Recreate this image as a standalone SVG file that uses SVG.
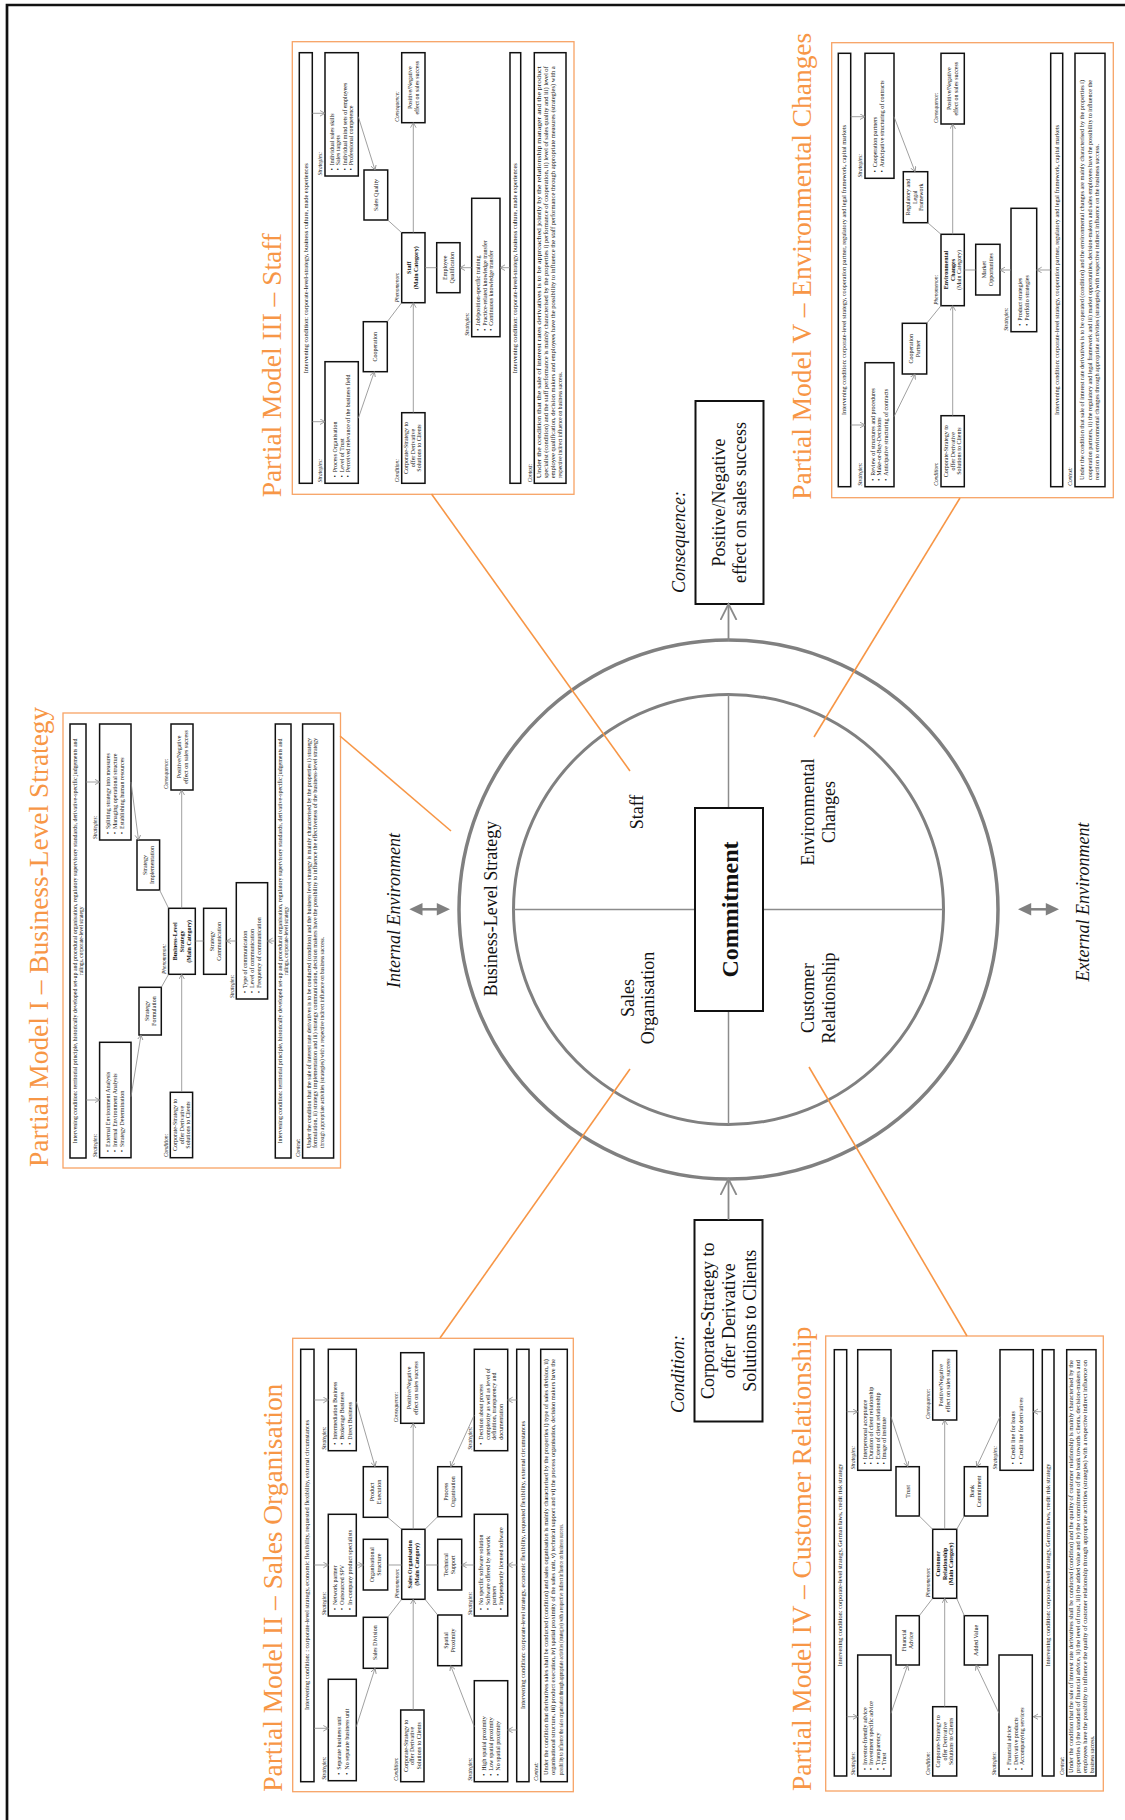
<svg xmlns="http://www.w3.org/2000/svg" width="1125" height="1820" viewBox="0 0 1125 1820">
<defs>
<style>
.ob{fill:#fff;stroke:#F7A365;stroke-width:1.3}
.bx{fill:#fff;stroke:#111;stroke-width:1.5}
.ln{fill:none;stroke:#888;stroke-width:0.8}
.ar{fill:none;stroke:#888;stroke-width:0.8;marker-end:url(#a)}
text{font-family:'Liberation Serif','Times New Roman',serif;fill:#111}
.t{font-size:6px}
.s{font-size:5.4px}
.c{text-anchor:middle}
.b{font-weight:bold}
.i{font-style:italic;font-size:5.4px}
.ttl{font-size:27.4px;fill:#F79646}
.or{stroke:#F79646;stroke-width:1.6;fill:none}
.ring{fill:none;stroke:#808080;stroke-width:3.5}
.cr{stroke:#8c8c8c;stroke-width:1.5}
.bb{fill:#fff;stroke:#111;stroke-width:2}
.big{font-size:18px}
.cap{font-size:18px;font-style:italic}
.ca{fill:none;stroke:#8a8a8a;stroke-width:1.8;marker-end:url(#A)}
.dh{fill:#808080}
</style>
<marker id="a" markerUnits="userSpaceOnUse" markerWidth="8" markerHeight="8" refX="5" refY="3" orient="auto"><path d="M0,0.2 L5,3 L0,5.8" fill="none" stroke="#888" stroke-width="0.8"/></marker>
<marker id="A" markerUnits="userSpaceOnUse" markerWidth="20" markerHeight="20" refX="16" refY="9" orient="auto"><path d="M0,1 L16,9 L0,17" fill="none" stroke="#8a8a8a" stroke-width="1.8"/></marker>
</defs>
<rect width="1125" height="1820" fill="#fff"/>
<path d="M7,1820 V5 H1125" fill="none" stroke="#111" stroke-width="2.7"/>

<g transform="matrix(0,-1,1,0,0,1820)">

<!-- Center -->
<g id="ring">
<circle class="ring" cx="910.5" cy="728.5" r="269.5"/>
<circle class="ring" cx="910.5" cy="728.5" r="215" style="stroke-width:3"/>
<line class="cr" x1="910.5" y1="513.5" x2="910.5" y2="695"/>
<line class="cr" x1="910.5" y1="763" x2="910.5" y2="943.5"/>
<line class="cr" x1="1125.5" y1="728.5" x2="1012" y2="728.5"/>
<line class="cr" x1="809" y1="728.5" x2="695.5" y2="728.5"/>
<text class="big c" x="911.5" y="497">Business-Level Strategy</text>
<text class="big c" x="1008" y="643">Staff</text>
<text class="big c" x="822" y="633.5">Sales</text>
<text class="big c" x="822" y="654">Organisation</text>
<text class="big c" x="1008" y="814">Environmental</text>
<text class="big c" x="1008" y="834.5">Changes</text>
<text class="big c" x="822" y="814">Customer</text>
<text class="big c" x="822" y="834.5">Relationship</text>
</g>
<g id="commitment">
<rect class="bb" x="809" y="695" width="203" height="68"/>
<text class="c b" x="910.5" y="737.5" style="font-size:24px">Commitment</text>
</g>
<g id="consequence">
<rect class="bb" x="1216" y="695.5" width="203" height="68"/>
<text class="big c" x="1317.5" y="724.5">Positive/Negative</text>
<text class="big c" x="1317.5" y="745.5">effect on sales success</text>
<text class="cap" x="1227" y="685">Consequence:</text>
</g>
<g id="condition">
<rect class="bb" x="398.5" y="694.5" width="201.5" height="68"/>
<text class="big c" x="499.3" y="713.5">Corporate-Strategy to</text>
<text class="big c" x="499.3" y="734.5">offer Derivative</text>
<text class="big c" x="499.3" y="755.5">Solutions to Clients</text>
<text class="cap" x="407" y="684">Condition:</text>
</g>
<g id="environment-labels">
<text class="cap c" x="909.5" y="400">Internal Environment</text>
<text class="cap c" x="918" y="1089">External Environment</text>
</g>
<g id="center-connectors">
<line class="ca" x1="1179.3" y1="728.5" x2="1216" y2="728.5"/>
<line class="ca" x1="600" y1="728.5" x2="641" y2="728.5"/>
</g>

<!-- Partial Model I -->
<g id="model1" transform="translate(652,63)">
<rect class="ob" x="0" y="0" width="455" height="277.5"/>
<text class="ttl" x="1" y="-15">Partial Model I – Business-Level Strategy</text>
<rect class="bx" x="10" y="7" width="434" height="16"/>
<text class="s c" x="227" y="13.6" textLength="405" lengthAdjust="spacingAndGlyphs">Intervening condition: territorial principle, historically developed set-up and procedural organisation, regulatory supervisory standards, derivative-specific judgements and</text>
<text class="s c" x="227" y="20">rulings, corporate-level strategy</text>
<text class="i" x="11" y="33.5">Strategies:</text>
<rect class="bx" x="10.3" y="36.6" width="115.4" height="31.4"/>
<text class="t"><tspan x="16" y="47.3">•</tspan><tspan x="21">External Environment Analysis</tspan><tspan x="16" y="54">•</tspan><tspan x="21">Internal Environment Analysis</tspan><tspan x="16" y="60.7">•</tspan><tspan x="21">Strategy Determination</tspan></text>
<text class="i" x="329" y="33.5">Strategies:</text>
<rect class="bx" x="328" y="36.6" width="116" height="31.4"/>
<text class="t"><tspan x="334" y="47.3">•</tspan><tspan x="339">Splitting strategy into measures</tspan><tspan x="334" y="54">•</tspan><tspan x="339">Managing operational structure</tspan><tspan x="334" y="60.7">•</tspan><tspan x="339">Establishing human resources</tspan></text>
<rect class="bx" x="133" y="76" width="47.7" height="22.3"/>
<text class="t c" x="156.9" y="85.6">Strategy</text><text class="t c" x="156.9" y="92.6">Formulation</text>
<rect class="bx" x="278" y="74" width="50" height="22.6"/>
<text class="t c" x="303" y="83.8">Strategy</text><text class="t c" x="303" y="90.8">Implementation</text>
<text class="i" x="194" y="103">Phenomenon:</text>
<rect class="bx" x="193.7" y="105.6" width="66" height="26.7"/>
<text class="t c b" x="226.7" y="114">Business-Level</text><text class="t c b" x="226.7" y="121">Strategy</text><text class="t c b" x="226.7" y="128">(Main Category)</text>
<rect class="bx" x="193.7" y="140.6" width="66" height="22.7"/>
<text class="t c" x="226.7" y="150.5">Strategy</text><text class="t c" x="226.7" y="157.5">Communication</text>
<text class="i" x="170" y="170.5">Strategies:</text>
<rect class="bx" x="169" y="173.3" width="116.3" height="31.3"/>
<text class="t"><tspan x="175" y="184.3">•</tspan><tspan x="180">Type of communication</tspan><tspan x="175" y="191">•</tspan><tspan x="180">Level of communication</tspan><tspan x="175" y="197.7">•</tspan><tspan x="180">Frequency of communication</tspan></text>
<text class="i" x="11" y="104.5">Condition:</text>
<rect class="bx" x="10.3" y="107.3" width="65.4" height="22.3"/>
<text class="t c" x="43" y="114">Corporate-Strategy to</text><text class="t c" x="43" y="120.5">offer Derivative</text><text class="t c" x="43" y="127">Solutions to Clients</text>
<text class="i" x="379" y="105.3">Consequence:</text>
<rect class="bx" x="378" y="108" width="66" height="22"/>
<text class="t c" x="411" y="117.5">Positive/Negative</text><text class="t c" x="411" y="124.5">effect on sales success</text>
<rect class="bx" x="10" y="212.3" width="434" height="15.7"/>
<text class="s c" x="227" y="218.8" textLength="405" lengthAdjust="spacingAndGlyphs">Intervening condition: territorial principle, historically developed set-up and procedural organisation, regulatory supervisory standards, derivative-specific judgements and</text>
<text class="s c" x="227" y="225.2">rulings, corporate-level strategy</text>
<text class="i" x="11" y="236.8">Context:</text>
<rect class="bx" x="10" y="239.6" width="434" height="31"/>
<text class="s" x="20" y="248" textLength="410" lengthAdjust="spacingAndGlyphs">Under the condition that the sale of interest rate derivatives is to be conducted (condition) and the business level strategy is mainly characterised by the properties i) strategy</text>
<text class="s" x="20" y="254.3" textLength="410" lengthAdjust="spacingAndGlyphs">formulation, ii) strategy implementation and iii) strategy communication, decision makers have the possibility to influence the effectiveness of the business-level strategy</text>
<text class="s" x="20" y="260.6">through appropriate activities (strategies) with a respective indirect influence on business success.</text>
<g id="model1-connectors">
<path class="ar" d="M68,23 L68,36.6"/>
<path class="ar" d="M386,23 L386,36.6"/>
<path class="ar" d="M76,118.7 L193.7,118.7"/>
<path class="ar" d="M259.7,118.7 L378,118.7"/>
<path class="ln" d="M180.7,98.3 L193.7,105.6"/>
<path class="ln" d="M278,96.6 L259.7,105.6"/>
<path class="ar" d="M71.3,68 L133,78"/>
<path class="ar" d="M386,68 L328,75.5"/>
<path class="ln" d="M227,132.3 L227,140.6"/>
<path class="ar" d="M227,173.3 L227,163.3"/>
<path class="ar" d="M227,212.3 L227,204.6"/>
</g>
</g>

<!-- Partial Model III -->
<g id="model3" transform="translate(1325.7,292.3)">
<rect class="ob" x="0" y="0" width="452.6" height="281.7"/>
<text class="ttl" x="-3" y="-11">Partial Model III – Staff</text>
<rect class="bx" x="11" y="7" width="430.6" height="13"/>
<text class="s c" x="226" y="15.5" textLength="210" lengthAdjust="spacingAndGlyphs">Intervening condition: corporate-level-strategy, business culture, made experiences</text>
<text class="i" x="12" y="30">Strategies:</text>
<rect class="bx" x="11" y="32.7" width="121.6" height="33.3"/>
<text class="t"><tspan x="17" y="44.6">•</tspan><tspan x="22">Process Organisation</tspan><tspan x="17" y="51.3">•</tspan><tspan x="22">Level of Trust</tspan><tspan x="17" y="58">•</tspan><tspan x="22">Perceived relevance of the business field</tspan></text>
<text class="i" x="319" y="30">Strategies:</text>
<rect class="bx" x="318.3" y="32.7" width="123.3" height="33.3"/>
<text class="t"><tspan x="324" y="41.6">•</tspan><tspan x="329">Individual sales skills</tspan><tspan x="324" y="48.1">•</tspan><tspan x="329">Sales targets</tspan><tspan x="324" y="54.6">•</tspan><tspan x="329">Individual mind sets of employees</tspan><tspan x="324" y="61.1">•</tspan><tspan x="329">Professional competence</tspan></text>
<rect class="bx" x="122.6" y="71" width="50" height="24"/>
<text class="t c" x="147.6" y="85">Cooperation</text>
<rect class="bx" x="274.3" y="71.7" width="50" height="23.7"/>
<text class="t c" x="299.3" y="85.5">Sales Quality</text>
<text class="i" x="192" y="106.5">Phenomenon:</text>
<rect class="bx" x="191.6" y="109.4" width="70" height="23.3"/>
<text class="t c b" x="226.6" y="119">Staff</text><text class="t c b" x="226.6" y="126">(Main Category)</text>
<rect class="bx" x="201.6" y="144.4" width="50" height="23.3"/>
<text class="t c" x="226.6" y="154.5">Employee</text><text class="t c" x="226.6" y="161.5">Qualification</text>
<text class="i" x="158.6" y="176.5">Strategies:</text>
<rect class="bx" x="157.6" y="179.4" width="138.4" height="28.3"/>
<text class="t"><tspan x="163.6" y="187.8">•</tspan><tspan x="168.6">Job/position-specific training</tspan><tspan x="163.6" y="194.5">•</tspan><tspan x="168.6">Practice-related knowledge transfer</tspan><tspan x="163.6" y="201.2">•</tspan><tspan x="168.6">Continuous knowledge transfer</tspan></text>
<text class="i" x="12" y="106.5">Condition:</text>
<rect class="bx" x="11" y="109.4" width="70.6" height="23.3"/>
<text class="t c" x="46.3" y="116">Corporate-Strategy to</text><text class="t c" x="46.3" y="122.5">offer Derivative</text><text class="t c" x="46.3" y="129">Solutions to Clients</text>
<text class="i" x="372.6" y="106.5">Consequence:</text>
<rect class="bx" x="371.6" y="109.4" width="70" height="23.3"/>
<text class="t c" x="406.6" y="119.5">Positive/Negative</text><text class="t c" x="406.6" y="126.5">effect on sales success</text>
<rect class="bx" x="11" y="217.7" width="430.6" height="10.7"/>
<text class="s c" x="226" y="225" textLength="210" lengthAdjust="spacingAndGlyphs">Intervening condition: corporate-level-strategy, business culture, made experiences</text>
<text class="i" x="12" y="239.3">Context:</text>
<rect class="bx" x="11" y="242" width="430.6" height="31.7"/>
<text class="s" x="16" y="249" textLength="412" lengthAdjust="spacingAndGlyphs">Under the condition that the sale of interest rates derivatives is to be approached jointly by the relationship manager and the product</text>
<text class="s" x="16" y="256" textLength="412" lengthAdjust="spacingAndGlyphs">specialist (condition) and the staff performance is mainly characterised by the properties i) performance of cooperation, ii) level of sales quality and iii) level of</text>
<text class="s" x="16" y="263" textLength="412" lengthAdjust="spacingAndGlyphs">employee qualification, decision makers and employees have the possibility to influence the staff performance through appropriate measures (strategies) with a</text>
<text class="s" x="16" y="270">respective indirect influence on business success.</text>
<g id="model3-connectors">
<path class="ar" d="M72.6,20 L72.6,32.7"/>
<path class="ar" d="M381,20 L381,32.7"/>
<path class="ar" d="M81.6,121 L191.6,121"/>
<path class="ar" d="M261.6,121 L371.6,121"/>
<path class="ar" d="M76,66 L122.6,82"/>
<path class="ln" d="M172.6,95 L191.6,109.4"/>
<path class="ar" d="M377.6,66 L324.3,82.7"/>
<path class="ln" d="M274.3,95.4 L261.6,109.4"/>
<path class="ln" d="M226.6,132.7 L226.6,144.4"/>
<path class="ar" d="M226.6,179.4 L226.6,167.7"/>
<path class="ar" d="M226.6,217.7 L226.6,207.7"/>
</g>
</g>

<!-- Partial Model V -->
<g id="model5" transform="translate(1322.3,831.7)">
<rect class="ob" x="0" y="0" width="455" height="281.6"/>
<text class="ttl" x="-2" y="-20.5">Partial Model V – Environmental Changes</text>
<rect class="bx" x="11" y="6.6" width="433.4" height="12.4"/>
<text class="s c" x="227.7" y="14.8" textLength="290" lengthAdjust="spacingAndGlyphs">Intervening condition: corporate-level strategy, cooperation partner, regulatory and legal framework, capital markets</text>
<text class="i" x="12" y="30.5">Strategies:</text>
<rect class="bx" x="11" y="33.3" width="124" height="29"/>
<text class="t"><tspan x="17" y="43.1">•</tspan><tspan x="22">Review of structures and procedures</tspan><tspan x="17" y="49.8">•</tspan><tspan x="22">Make-or-Buy-Decisions</tspan><tspan x="17" y="56.5">•</tspan><tspan x="22">Anticipative structuring of contracts</tspan></text>
<text class="i" x="320.4" y="30.5">Strategies:</text>
<rect class="bx" x="319.4" y="33.3" width="125" height="29"/>
<text class="t"><tspan x="325.4" y="45.3">•</tspan><tspan x="330.4">Cooperation partners</tspan><tspan x="325.4" y="52.5">•</tspan><tspan x="330.4">Anticipative structuring of contracts</tspan></text>
<rect class="bx" x="123.7" y="70.6" width="50.7" height="24.4"/>
<text class="t c" x="149" y="81.3">Cooperation</text><text class="t c" x="149" y="88.3">Partner</text>
<rect class="bx" x="275" y="71.6" width="51" height="24.4"/>
<text class="t c" x="300.5" y="78.8">Regulatory and</text><text class="t c" x="300.5" y="85.3">Legal</text><text class="t c" x="300.5" y="91.8">Framework</text>
<text class="i" x="193" y="106.5">Phenomenon:</text>
<rect class="bx" x="192" y="109.3" width="71.4" height="23.3"/>
<text class="t c b" x="227.7" y="116.5">Environmental</text><text class="t c b" x="227.7" y="123">Changes</text><text class="t c" x="227.7" y="129.5">(Main Category)</text>
<rect class="bx" x="202.7" y="144" width="50.7" height="24.3"/>
<text class="t c" x="228" y="154.7">Market</text><text class="t c" x="228" y="161.7">Opportunities</text>
<text class="i" x="167" y="176.5">Strategies:</text>
<rect class="bx" x="166" y="179.3" width="123.4" height="25.7"/>
<text class="t"><tspan x="172" y="190.3">•</tspan><tspan x="177">Product strategies</tspan><tspan x="172" y="197.6">•</tspan><tspan x="177">Portfolio strategies</tspan></text>
<text class="i" x="12" y="106.5">Condition:</text>
<rect class="bx" x="11" y="109.3" width="71" height="23.3"/>
<text class="t c" x="46.5" y="116.5">Corporate-Strategy to</text><text class="t c" x="46.5" y="123">offer Derivative</text><text class="t c" x="46.5" y="129.5">Solutions to Clients</text>
<text class="i" x="374.7" y="106.5">Consequence:</text>
<rect class="bx" x="373.7" y="109.3" width="70.7" height="23.3"/>
<text class="t c" x="409" y="119.5">Positive/Negative</text><text class="t c" x="409" y="126.5">effect on sales success</text>
<rect class="bx" x="11" y="219" width="433.4" height="12"/>
<text class="s c" x="227.7" y="227" textLength="290" lengthAdjust="spacingAndGlyphs">Intervening condition: corporate-level strategy, cooperation partner, regulatory and legal framework, capital markets</text>
<text class="i" x="12" y="240.5">Context:</text>
<rect class="bx" x="11" y="243.3" width="433.4" height="30"/>
<text class="s" x="17.7" y="252.5" textLength="400" lengthAdjust="spacingAndGlyphs">Under the condition that sale of interest rate derivatives is to be operated (condition) and the environmental changes are mainly characterised by the properties i)</text>
<text class="s" x="17.7" y="260" textLength="400" lengthAdjust="spacingAndGlyphs">cooperation partners, ii) the regulatory and legal framework and iii) market opportunities, decision-makers and sales employees have the possibility to influence the</text>
<text class="s" x="17.7" y="267.5" textLength="336" lengthAdjust="spacingAndGlyphs">reaction to environmental changes through appropriate activities (strategies) with respective indirect influence on the business success.</text>
<g id="model5-connectors">
<path class="ar" d="M72.7,19 L72.7,33.3"/>
<path class="ar" d="M381,19 L381,33.3"/>
<path class="ar" d="M82,121 L192,121"/>
<path class="ar" d="M263.4,121 L373.7,121"/>
<path class="ar" d="M81,62.3 L123.7,83.3"/>
<path class="ln" d="M174.4,95 L192,109.3"/>
<path class="ar" d="M381,62.3 L326,83.3"/>
<path class="ln" d="M275,96 L263.4,109.3"/>
<path class="ln" d="M227.7,132.6 L227.7,144"/>
<path class="ar" d="M227.7,179.3 L227.7,168.3"/>
<path class="ar" d="M227.7,219 L227.7,205"/>
</g>
</g>

<!-- Partial Model II -->
<g id="model2" transform="translate(28.3,292.7)">
<rect class="ob" x="0" y="0" width="453.4" height="280.6"/>
<text class="ttl" x="0" y="-10.4">Partial Model II – Sales Organisation</text>
<rect class="bx" x="10" y="8" width="432.4" height="13.3"/>
<text class="s c" x="226.7" y="16.5" textLength="290" lengthAdjust="spacingAndGlyphs">Intervening condition: : corporate-level strategy, economic flexibility, requested flexibility, external circumstances</text>
<text class="i" x="12" y="33">Strategies:</text>
<rect class="bx" x="11" y="35.6" width="101.4" height="28"/>
<text class="t"><tspan x="17" y="48.6">•</tspan><tspan x="22">Separate business unit</tspan><tspan x="17" y="56">•</tspan><tspan x="22">No separate business unit</tspan></text>
<text class="i" x="176.7" y="33">Strategies:</text>
<rect class="bx" x="175.7" y="35.6" width="101.7" height="28"/>
<text class="t"><tspan x="181.7" y="44.3">•</tspan><tspan x="186.7">Network partner</tspan><tspan x="181.7" y="51.6">•</tspan><tspan x="186.7">Outsourced SPV</tspan><tspan x="181.7" y="59">•</tspan><tspan x="186.7">In-company product specialists</tspan></text>
<text class="i" x="342" y="33">Strategies:</text>
<rect class="bx" x="341" y="35.6" width="101.4" height="28"/>
<text class="t"><tspan x="347" y="44.3">•</tspan><tspan x="352">Intermediation Business</tspan><tspan x="347" y="51.6">•</tspan><tspan x="352">Brokerage Business</tspan><tspan x="347" y="59">•</tspan><tspan x="352">Direct Business</tspan></text>
<rect class="bx" x="123.4" y="70.6" width="51" height="24.4"/>
<text class="t c" x="149" y="84.8">Sales Division</text>
<rect class="bx" x="201.7" y="70.6" width="50.7" height="24.4"/>
<text class="t c" x="227" y="81.3">Organisational</text><text class="t c" x="227" y="88.3">Structure</text>
<rect class="bx" x="274.4" y="70.6" width="50.6" height="24.4"/>
<text class="t c" x="299.7" y="81.3">Product</text><text class="t c" x="299.7" y="88.3">Execution</text>
<text class="i" x="193.4" y="106.5">Phenomenon:</text>
<rect class="bx" x="192.4" y="109" width="70" height="23.3"/>
<text class="t c b" x="227.4" y="119">Sales Organisation</text><text class="t c b" x="227.4" y="126">(Main Category)</text>
<rect class="bx" x="126" y="145" width="50.7" height="24"/>
<text class="t c" x="151.3" y="155.5">Spatial</text><text class="t c" x="151.3" y="162.5">Proximity</text>
<rect class="bx" x="201.7" y="145" width="50.7" height="24"/>
<text class="t c" x="227" y="155.5">Technical</text><text class="t c" x="227" y="162.5">Support</text>
<rect class="bx" x="275" y="145" width="50" height="24"/>
<text class="t c" x="300" y="155.5">Process</text><text class="t c" x="300" y="162.5">Organisation</text>
<text class="i" x="11" y="179">Strategies:</text>
<rect class="bx" x="10" y="181.6" width="101" height="33.4"/>
<text class="t"><tspan x="16" y="193.6">•</tspan><tspan x="21">High spatial proximity</tspan><tspan x="16" y="200.3">•</tspan><tspan x="21">Low spatial proximity</tspan><tspan x="16" y="207">•</tspan><tspan x="21">No spatial proximity</tspan></text>
<text class="i" x="176.7" y="179">Strategies:</text>
<rect class="bx" x="175.7" y="181.6" width="101.7" height="33.4"/>
<text class="t"><tspan x="181.7" y="190.3">•</tspan><tspan x="186.7">No specific software solution</tspan><tspan x="181.7" y="197">•</tspan><tspan x="186.7">Software offered by network</tspan><tspan x="186.7" y="203.7">partners</tspan><tspan x="181.7" y="210.4">•</tspan><tspan x="186.7">Independently licensed software</tspan></text>
<text class="i" x="342" y="179">Strategies:</text>
<rect class="bx" x="341" y="181.6" width="101.4" height="33.4"/>
<text class="t"><tspan x="347" y="190.3">•</tspan><tspan x="352">Decision about process</tspan><tspan x="352" y="197">complexity as well as level of</tspan><tspan x="352" y="203.7">definition, transparency and</tspan><tspan x="352" y="210.4">documentation</tspan></text>
<text class="i" x="11" y="105.5">Condition:</text>
<rect class="bx" x="10" y="108" width="71.7" height="23.3"/>
<text class="t c" x="45.8" y="115.2">Corporate-Strategy to</text><text class="t c" x="45.8" y="121.7">offer Derivative</text><text class="t c" x="45.8" y="128.2">Solutions to Clients</text>
<text class="i" x="369.4" y="105.5">Consequence:</text>
<rect class="bx" x="368.4" y="108" width="70.6" height="23.3"/>
<text class="t c" x="403.7" y="118.2">Positive/Negative</text><text class="t c" x="403.7" y="125.2">effect on sales success</text>
<rect class="bx" x="10" y="224" width="432.4" height="12.3"/>
<text class="s c" x="226.7" y="232" textLength="288" lengthAdjust="spacingAndGlyphs">Intervening condition: corporate-level strategy, economic flexibility, requested flexibility, external circumstances</text>
<text class="i" x="11" y="245.5">Context:</text>
<rect class="bx" x="10" y="248" width="432.4" height="26.6"/>
<text class="s" x="16.7" y="255" textLength="416" lengthAdjust="spacingAndGlyphs">Under the condition that derivatives sales shall be conducted (condition) and sales organisation is mainly characterised by the properties i) type of sales division, ii)</text>
<text class="s" x="16.7" y="262.5" textLength="416" lengthAdjust="spacingAndGlyphs">organisational structure, iii) product execution, iv) spatial proximity of the sales unit, v) technical support and vi) the process organisation, decision makers have the</text>
<text class="s" x="16.7" y="270" textLength="251" lengthAdjust="spacingAndGlyphs">possibility to influence the sales organisation through appropriate activities (strategies) with a respective indirect influence on business success.</text>
<g id="model2-connectors">
<path class="ar" d="M63.4,21.3 L63.4,35.6"/>
<path class="ar" d="M226.7,21.3 L226.7,35.6"/>
<path class="ar" d="M391.7,21.3 L391.7,35.6"/>
<path class="ar" d="M81.7,120.5 L192.4,120.5"/>
<path class="ar" d="M262.4,120.5 L368.4,120.5"/>
<path class="ar" d="M65,63.6 L123.4,82.3"/>
<path class="ln" d="M174.4,95 L192.4,109"/>
<path class="ar" d="M226.7,63.6 L226.7,70.6"/>
<path class="ln" d="M226.7,95 L226.7,109"/>
<path class="ar" d="M390,63.6 L325,82.3"/>
<path class="ln" d="M274.4,95 L262.4,109"/>
<path class="ln" d="M192.4,132.3 L176.7,145"/>
<path class="ar" d="M65,181.6 L126,158"/>
<path class="ln" d="M226.7,132.3 L226.7,145"/>
<path class="ar" d="M226.7,181.6 L226.7,169"/>
<path class="ln" d="M262.4,132.3 L275,145"/>
<path class="ar" d="M376.7,181.6 L325,158"/>
<path class="ar" d="M61.7,224 L61.7,215"/>
<path class="ar" d="M226.7,224 L226.7,215"/>
<path class="ar" d="M391.7,224 L391.7,215"/>
</g>
</g>

<!-- Partial Model IV -->
<g id="model4" transform="translate(29,825.7)">
<rect class="ob" x="0" y="0" width="455" height="277.6"/>
<text class="ttl" x="0" y="-14.7">Partial Model IV – Customer Relationship</text>
<rect class="bx" x="15" y="8.6" width="426.3" height="12.4"/>
<text class="s c" x="226" y="16.8" textLength="203" lengthAdjust="spacingAndGlyphs">Intervening condition: corporate-level strategy, German laws, credit risk strategy</text>
<text class="i" x="16" y="29.5">Strategies:</text>
<rect class="bx" x="15" y="32" width="121" height="33.3"/>
<text class="t"><tspan x="21" y="41">•</tspan><tspan x="26">Investor-friendly advice</tspan><tspan x="21" y="47.5">•</tspan><tspan x="26">Investment specific advice</tspan><tspan x="21" y="54">•</tspan><tspan x="26">Transparency</tspan><tspan x="21" y="60.5">•</tspan><tspan x="26">Trust</tspan></text>
<text class="i" x="321.7" y="29.5">Strategies:</text>
<rect class="bx" x="320.7" y="32" width="120.6" height="33.3"/>
<text class="t"><tspan x="326.7" y="41">•</tspan><tspan x="331.7">Interpersonal acceptance</tspan><tspan x="326.7" y="47.5">•</tspan><tspan x="331.7">Duration of client relationship</tspan><tspan x="326.7" y="54">•</tspan><tspan x="331.7">Extent of client relationship</tspan><tspan x="326.7" y="60.5">•</tspan><tspan x="331.7">Image of institute</tspan></text>
<rect class="bx" x="126" y="70.3" width="49.3" height="23.3"/>
<text class="t c" x="150.6" y="80.5">Financial</text><text class="t c" x="150.6" y="87.5">Advice</text>
<rect class="bx" x="275" y="70.3" width="49.3" height="23.3"/>
<text class="t c" x="299.6" y="84">Trust</text>
<text class="i" x="193.7" y="104.5">Phenomenon:</text>
<rect class="bx" x="192.7" y="107" width="69" height="24"/>
<text class="t c b" x="227.2" y="114.5">Customer</text><text class="t c b" x="227.2" y="121">Relationship</text><text class="t c b" x="227.2" y="127.5">(Main Category)</text>
<rect class="bx" x="126" y="138.6" width="49.3" height="23.4"/>
<text class="t c" x="150.6" y="152.3">Added Value</text>
<rect class="bx" x="275" y="138.6" width="49.3" height="23.4"/>
<text class="t c" x="299.6" y="148.8">Bank</text><text class="t c" x="299.6" y="155.8">Commitment</text>
<text class="i" x="16" y="170.8">Strategies:</text>
<rect class="bx" x="15" y="173.3" width="121" height="33.3"/>
<text class="t"><tspan x="21" y="185.3">•</tspan><tspan x="26">Financial advice</tspan><tspan x="21" y="192">•</tspan><tspan x="26">Derivative products</tspan><tspan x="21" y="198.7">•</tspan><tspan x="26">Accompanying services</tspan></text>
<text class="i" x="321.7" y="171.8">Strategies:</text>
<rect class="bx" x="320.7" y="174.3" width="120.6" height="33.3"/>
<text class="t"><tspan x="326.7" y="189.6">•</tspan><tspan x="331.7">Credit line for loans</tspan><tspan x="326.7" y="197.6">•</tspan><tspan x="331.7">Credit line for derivatives</tspan></text>
<text class="i" x="16" y="104.5">Condition:</text>
<rect class="bx" x="15" y="107" width="69.3" height="24"/>
<text class="t c" x="49.7" y="114.5">Corporate-Strategy to</text><text class="t c" x="49.7" y="121">offer Derivative</text><text class="t c" x="49.7" y="127.5">Solutions to Clients</text>
<text class="i" x="372" y="104.5">Consequence:</text>
<rect class="bx" x="371" y="107" width="69.3" height="24"/>
<text class="t c" x="405.7" y="117.5">Positive/Negative</text><text class="t c" x="405.7" y="124.5">effect on sales success</text>
<rect class="bx" x="15" y="216.6" width="426.3" height="11.7"/>
<text class="s c" x="226" y="224.5" textLength="203" lengthAdjust="spacingAndGlyphs">Intervening condition: corporate-level strategy, German laws, credit risk strategy</text>
<text class="i" x="16" y="238.5">Context:</text>
<rect class="bx" x="15" y="241" width="426.3" height="29.3"/>
<text class="s" x="18" y="247.5" textLength="413" lengthAdjust="spacingAndGlyphs">Under the condition that the sale of interest rate derivatives shall be conducted (condition) and the quality of customer relationship is mainly characterised by the</text>
<text class="s" x="18" y="254.5" textLength="413" lengthAdjust="spacingAndGlyphs">properties i) the standard of financial advice, ii) the level of trust, iii) the added value and iv) the commitment of the bank towards clients, decision-makers and</text>
<text class="s" x="18" y="261.5" textLength="413" lengthAdjust="spacingAndGlyphs">employees have the possibility to influence the quality of customer relationship through appropriate activities (strategies) with a respective indirect influence on</text>
<text class="s" x="18" y="268.5">business success.</text>
<g id="model4-connectors">
<path class="ar" d="M74.3,21 L74.3,32"/>
<path class="ar" d="M379.3,21 L379.3,32"/>
<path class="ar" d="M84.3,119 L192.7,119"/>
<path class="ar" d="M261.7,119 L371,119"/>
<path class="ar" d="M77.7,65.3 L126,82"/>
<path class="ln" d="M175.3,93.6 L192.7,107"/>
<path class="ar" d="M374.3,65.3 L324.3,82"/>
<path class="ln" d="M275,93.6 L261.7,107"/>
<path class="ln" d="M192.7,131 L175.3,138.6"/>
<path class="ar" d="M77.7,173.3 L126,150.3"/>
<path class="ln" d="M261.7,131 L275,138.6"/>
<path class="ar" d="M374.3,174.3 L324.3,151"/>
<path class="ar" d="M74.3,216.6 L74.3,207.6"/>
<path class="ar" d="M379.3,216.6 L379.3,207.6"/>
</g>
</g>
</g>

<g id="connectors">
<path class="or" d="M340,736 L451,831"/>
<path class="or" d="M431.5,494 L630,771"/>
<path class="or" d="M960,498 L814,737"/>
<path class="or" d="M440,1338 L630,1069"/>
<path class="or" d="M967,1336 L809,1067"/>
<path class="dh" d="M409.3,909.3 L422.5,903 L422.5,915.6 Z M450,909.3 L436.8,903 L436.8,915.6 Z"/>
<line x1="421" y1="909.3" x2="438" y2="909.3" stroke="#808080" stroke-width="2.5"/>
<path class="dh" d="M1018,909.3 L1031.2,903 L1031.2,915.6 Z M1059,909.3 L1045.8,903 L1045.8,915.6 Z"/>
<line x1="1030" y1="909.3" x2="1047" y2="909.3" stroke="#808080" stroke-width="2.5"/>
</g>
</svg>
